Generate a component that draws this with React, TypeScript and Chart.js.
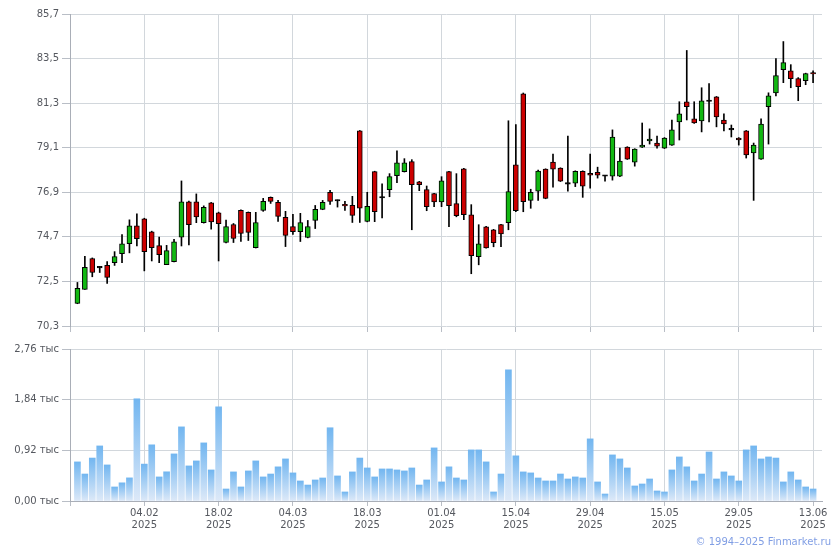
import React, { useEffect, useRef } from "react";
import { Chart, registerables } from "chart.js";

Chart.register(...registerables);

// ---- data ----
const openP = [
  71.42, 72.11, 73.63, 73.17, 73.29, 73.42, 73.87, 74.36, 75.25, 75.59,
  74.95, 74.27, 73.33, 73.48, 74.68, 76.43, 76.43, 75.40, 76.38, 75.89,
  74.42, 75.31, 76.01, 75.91, 74.17, 76.01, 76.65, 76.40, 75.66, 75.21,
  74.96, 74.67, 75.51, 76.06, 76.90, 76.47, 76.27, 76.25, 79.93, 75.46,
  77.92, 76.62, 77.03, 77.72, 77.92, 78.41, 77.42, 77.03, 76.83, 76.43,
  77.92, 76.34, 78.06, 75.79, 73.72, 75.20, 75.05, 75.30, 75.40, 78.26,
  81.76, 76.50, 76.95, 78.04, 78.39, 78.09, 77.30, 77.35, 77.94, 77.84,
  77.89, 77.69, 77.69, 77.69, 79.13, 78.39, 79.13, 79.43, 79.33, 79.08,
  79.23, 80.37, 81.37, 80.52, 80.42, 81.38, 81.61, 80.47, 79.98, 79.58,
  79.93, 78.84, 78.54, 81.12, 81.81, 82.95, 82.90, 82.51, 82.41, 82.76,
];
const highP = [
  72.45, 73.74, 73.66, 73.24, 73.48, 73.97, 74.81, 75.54, 75.84, 75.62,
  74.98, 74.69, 74.28, 74.58, 77.46, 76.47, 76.82, 76.23, 76.40, 75.92,
  75.53, 75.36, 76.03, 75.93, 75.91, 76.60, 76.67, 76.50, 75.96, 75.81,
  75.86, 75.51, 76.25, 76.50, 77.00, 76.52, 76.45, 76.70, 79.95, 76.90,
  77.94, 77.32, 77.82, 78.95, 78.56, 78.51, 77.44, 77.21, 76.85, 77.67,
  77.94, 77.82, 78.08, 76.29, 75.30, 75.22, 75.07, 75.32, 80.43, 80.24,
  81.80, 77.05, 77.99, 78.06, 78.79, 78.11, 79.68, 77.96, 77.96, 78.79,
  78.14, 77.74, 79.98, 79.08, 79.15, 79.05, 80.32, 80.03, 79.68, 79.60,
  80.47, 81.37, 83.90, 81.37, 82.06, 82.26, 81.63, 80.77, 80.22, 79.60,
  79.95, 79.33, 80.52, 81.81, 83.50, 84.34, 83.20, 82.56, 82.78, 82.90,
];
const lowP = [
  71.40, 72.11, 72.73, 72.94, 72.40, 73.29, 73.43, 73.91, 74.25, 73.02,
  73.51, 73.43, 73.33, 73.46, 74.25, 74.30, 75.40, 75.38, 75.08, 73.51,
  74.40, 74.42, 74.47, 74.52, 74.15, 75.96, 76.35, 75.46, 74.22, 74.82,
  74.47, 74.65, 75.11, 76.04, 76.30, 76.17, 76.01, 75.41, 75.41, 75.44,
  75.45, 75.63, 76.68, 77.37, 77.90, 75.05, 76.98, 75.99, 76.19, 76.19,
  75.20, 75.69, 75.55, 72.88, 73.32, 74.14, 74.21, 74.21, 75.05, 75.94,
  75.94, 76.11, 76.50, 76.58, 77.15, 77.43, 76.95, 77.18, 76.65, 77.10,
  77.60, 77.45, 77.50, 77.67, 78.52, 78.19, 79.11, 79.28, 79.08, 79.06,
  79.21, 79.48, 80.47, 80.30, 79.88, 80.37, 80.13, 79.93, 79.63, 79.23,
  78.59, 76.50, 78.52, 79.28, 81.66, 82.31, 82.06, 81.42, 82.21, 82.31,
];
const closeP = [
  72.16, 73.19, 72.94, 73.17, 72.70, 73.73, 74.36, 75.25, 74.61, 73.97,
  74.17, 73.82, 74.02, 74.46, 76.43, 75.30, 75.69, 76.16, 75.44, 75.35,
  75.21, 74.62, 74.87, 74.92, 75.41, 76.45, 76.45, 75.71, 74.77, 74.96,
  75.41, 75.21, 76.06, 76.40, 76.45, 76.47, 76.23, 75.76, 76.11, 76.21,
  75.94, 76.62, 77.67, 78.36, 78.36, 77.27, 77.27, 76.19, 76.43, 77.47,
  76.24, 75.74, 75.79, 73.77, 74.36, 74.16, 74.41, 74.85, 76.93, 75.99,
  76.44, 76.90, 77.95, 76.60, 78.04, 77.45, 77.30, 77.94, 77.20, 77.74,
  77.74, 77.69, 79.63, 78.44, 78.54, 79.03, 79.23, 79.53, 79.18, 79.58,
  79.98, 80.77, 81.12, 80.32, 81.42, 81.38, 80.62, 80.27, 79.98, 79.48,
  78.74, 79.23, 80.27, 81.66, 82.66, 83.30, 82.51, 82.11, 82.76, 82.74,
];
// volume, thousands
const volumeK = [
  0.71, 0.49, 0.78, 1.0, 0.655, 0.255, 0.33, 0.42, 1.856, 0.67,
  1.02, 0.437, 0.53, 0.855, 1.346, 0.637, 0.728, 1.055, 0.564, 1.71,
  0.218, 0.528, 0.255, 0.546, 0.728, 0.437, 0.49, 0.62, 0.764, 0.51,
  0.364, 0.29, 0.382, 0.418, 1.33, 0.455, 0.164, 0.528, 0.78, 0.6,
  0.437, 0.582, 0.582, 0.564, 0.546, 0.6, 0.29, 0.382, 0.964, 0.346,
  0.62, 0.418, 0.382, 0.928, 0.928, 0.71, 0.164, 0.49, 2.384, 0.82,
  0.528, 0.51, 0.418, 0.364, 0.364, 0.49, 0.4, 0.437, 0.418, 1.128,
  0.346, 0.127, 0.837, 0.764, 0.6, 0.273, 0.309, 0.4, 0.182, 0.164,
  0.564, 0.8, 0.62, 0.364, 0.49, 0.89, 0.4, 0.528, 0.455, 0.364,
  0.928, 1.0, 0.764, 0.8, 0.78, 0.346, 0.528, 0.382, 0.255, 0.218,
];
const dateLabels = ["04.02", "18.02", "04.03", "18.03", "01.04", "15.04", "29.04", "15.05", "29.05", "13.06"];
const dateTickIdx = [9, 19, 29, 39, 49, 59, 69, 79, 89, 99];
const yearLabel = "2025";
const priceTicks = [70.3, 72.5, 74.7, 76.9, 79.1, 81.3, 83.5, 85.7];
const volumeTicks = [0, 0.92, 1.84, 2.76];
const copyrightText = "© 1994–2025 Finmarket.ru";

// ---- styles ----
const FONT = "'DejaVu Sans', Verdana, sans-serif";
const GRID = "#d2d7dc";
const AXIS = "#a9aeb7";
const TICKC = "#b9bec6";
const LABEL = "#55585f";
const GREEN = "#12b812";
const RED = "#cc0000";
const X_MIN = -1.0;
const X_MAX = 100.2;

const fmtComma = (v: number, d: number) => v.toFixed(d).replace(".", ",");

export default function App() {
  const topRef = useRef<HTMLCanvasElement | null>(null);
  const volRef = useRef<HTMLCanvasElement | null>(null);

  useEffect(() => {
    const idx = openP.map((_, i) => i);
    const xTickValues = [X_MIN, ...dateTickIdx];

    const xCommon: any = {
      type: "linear",
      min: X_MIN,
      max: X_MAX,
      offset: false,
      afterBuildTicks: (s: any) => {
        s.ticks = xTickValues.map((v) => ({ value: v }));
      },
      grid: {
        offset: false,
        color: (c: any) => (c.index === 0 ? "rgba(0,0,0,0)" : GRID),
        tickColor: TICKC,
      },
    };

    const top = new Chart(topRef.current as HTMLCanvasElement, {
      type: "bar",
      data: {
        datasets: [
          {
            label: "body",
            data: idx.map((i) => ({ x: i, y: [openP[i], closeP[i]] })) as any,
            backgroundColor: idx.map((i) =>
              closeP[i] > openP[i] ? GREEN : closeP[i] < openP[i] ? RED : "#000"
            ),
            borderColor: "#000",
            borderWidth: 1,
            borderSkipped: false,
            barThickness: 5,
            minBarLength: 1.5,
            grouped: false,
          } as any,
          {
            label: "wick",
            data: idx.map((i) => ({ x: i, y: [lowP[i], highP[i]] })) as any,
            backgroundColor: "#000",
            borderWidth: 0,
            barThickness: 1,
            grouped: false,
          } as any,
        ],
      },
      options: {
        responsive: false,
        animation: false,
        layout: { padding: { top: 14, right: 18, bottom: 8, left: 0 } },
        plugins: { legend: { display: false }, tooltip: { enabled: false } },
        scales: {
          x: {
            ...xCommon,
            ticks: { display: false, autoSkip: false },
            grid: { ...xCommon.grid, tickLength: 6 },
            border: { display: false },
            afterFit: (s: any) => {
              s.height = 6;
            },
          },
          y: {
            min: 70.3,
            max: 85.7,
            afterBuildTicks: (s: any) => {
              s.ticks = priceTicks.map((v) => ({ value: v }));
            },
            ticks: {
              font: { family: FONT, size: 10 },
              color: LABEL,
              padding: 3,
              callback: (v: any) => fmtComma(Number(v), 1),
            },
            grid: { color: GRID, tickColor: TICKC, tickLength: 8 },
            border: { color: AXIS },
            afterFit: (s: any) => {
              s.width = 70;
            },
          },
        } as any,
      },
    });

    const topColor = "#72b6f0";
    const botColor = "#dde9f8";
    const vol = new Chart(volRef.current as HTMLCanvasElement, {
      type: "bar",
      data: {
        datasets: [
          {
            label: "volume",
            data: idx.map((i) => ({ x: i, y: volumeK[i] })) as any,
            backgroundColor: (c: any) => {
              const chart = c.chart;
              const ys = chart.scales && chart.scales.y;
              if (!ys || c.raw == null) return topColor;
              const v = typeof c.raw === "object" ? c.raw.y : c.raw;
              const y1 = ys.getPixelForValue(v);
              const y0 = ys.getPixelForValue(0);
              if (!isFinite(y1) || !isFinite(y0) || y1 === y0) return topColor;
              const g = chart.ctx.createLinearGradient(0, y1, 0, y0);
              g.addColorStop(0, topColor);
              g.addColorStop(1, botColor);
              return g;
            },
            borderWidth: 0,
            barThickness: 6,
            grouped: false,
          } as any,
        ],
      },
      options: {
        responsive: false,
        animation: false,
        layout: { padding: { top: 9, right: 18, bottom: 9, left: 0 } },
        plugins: { legend: { display: false }, tooltip: { enabled: false } },
        scales: {
          x: {
            ...xCommon,
            ticks: {
              autoSkip: false,
              maxRotation: 0,
              minRotation: 0,
              padding: 1,
              font: { family: FONT, size: 10, lineHeight: 1.2 },
              color: LABEL,
              callback: (_v: any, i: number) =>
                i === 0 ? "" : [dateLabels[i - 1], yearLabel],
            },
            grid: { ...xCommon.grid, tickLength: 5 },
            border: { display: true, color: AXIS },
            afterFit: (s: any) => {
              s.height = 40;
            },
          },
          y: {
            min: 0,
            max: 2.76,
            afterBuildTicks: (s: any) => {
              s.ticks = volumeTicks.map((v) => ({ value: v }));
            },
            ticks: {
              font: { family: FONT, size: 10 },
              color: LABEL,
              padding: 3,
              callback: (v: any) => fmtComma(Number(v), 2) + " тыс",
            },
            grid: { color: GRID, tickColor: TICKC, tickLength: 8 },
            border: { color: AXIS },
            afterFit: (s: any) => {
              s.width = 70;
            },
          },
        } as any,
      },
    });

    return () => {
      top.destroy();
      vol.destroy();
    };
  }, []);

  return (
    <div
      style={{
        position: "absolute",
        left: 0,
        top: 0,
        width: 840,
        height: 550,
        background: "#fff",
        overflow: "hidden",
      }}
    >
      <canvas
        ref={topRef}
        width={840}
        height={340}
        style={{ position: "absolute", left: 0, top: 0, width: 840, height: 340 }}
      />
      <canvas
        ref={volRef}
        width={840}
        height={210}
        style={{ position: "absolute", left: 0, top: 340, width: 840, height: 210 }}
      />
      <div
        style={{
          position: "absolute",
          right: 9,
          top: 536,
          font: `10px ${FONT}`,
          lineHeight: "12px",
          color: "#809ee4",
          whiteSpace: "nowrap",
        }}
      >
        {copyrightText}
      </div>
    </div>
  );
}
